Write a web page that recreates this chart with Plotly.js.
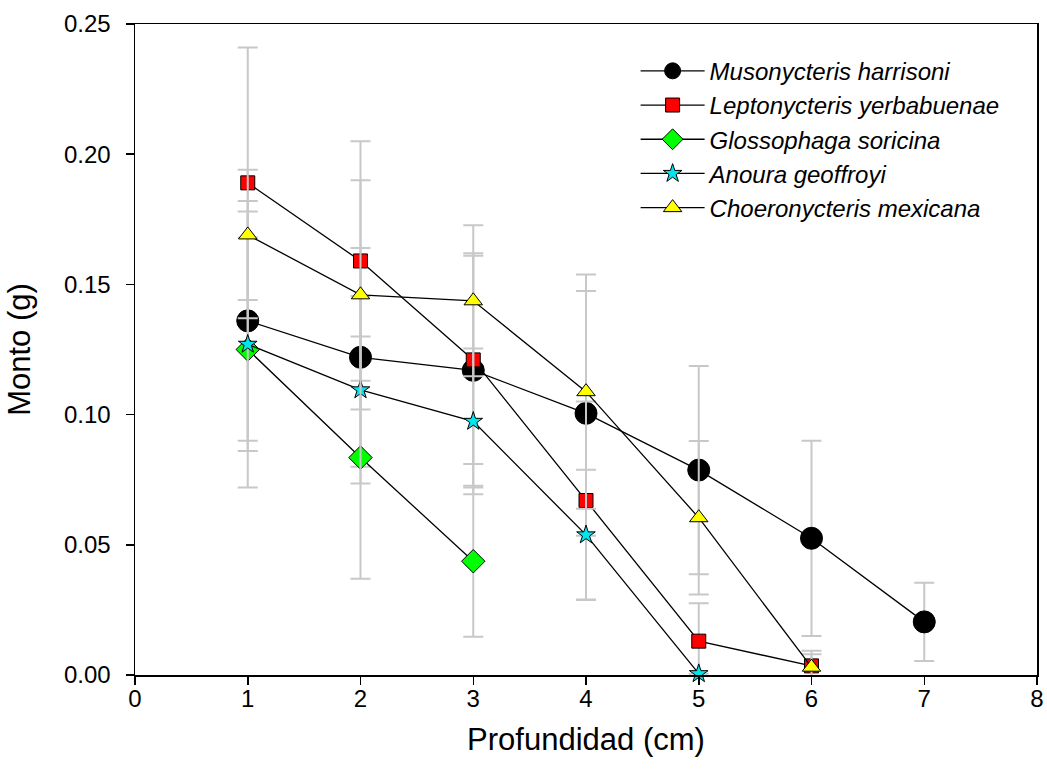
<!DOCTYPE html>
<html>
<head>
<meta charset="utf-8">
<script src="https://cdn.plot.ly/plotly-3.0.1.min.js"></script>
<style>html,body{margin:0;padding:0;background:#fff;}#chart{width:1047px;height:778px;}</style>
</head>
<body>
<div id="chart"></div>
<script>
// Depth (cm)
var depthM = [1, 2, 3, 4, 5, 6, 7];
var depthL = [1, 2, 3, 4, 5, 6];
var depthG = [1, 2, 3];
var depthA = [1, 2, 3, 4, 5];
var depthC = [1, 2, 3, 4, 5, 6];

// Mean amount (g)
var musonycteris = [0.136, 0.122, 0.117, 0.1005, 0.0787, 0.0525, 0.0204];
var leptonycteris = [0.189, 0.159, 0.121, 0.067, 0.013, 0.0035];
var glossophaga = [0.125, 0.0835, 0.0437];
var anoura = [0.127, 0.1095, 0.0974, 0.0538, 0.0005];
var choeronycteris = [0.169, 0.146, 0.1437, 0.1088, 0.0604, 0.003];

// Error (g)
var errM = [0.046, 0.042, 0.045, 0.047, 0.040, 0.0375, 0.015];
var errL = [0.052, 0.046, 0.040, 0.038, 0.0146, 0.0058];
var errG = [0.053, 0.0465, 0.029];
var errA = [0.041, 0.036, 0.028, 0.025, 0.0];
var errC = [0.025, 0.044, 0.029, 0.045, 0.0295, 0.005];

var names = ["Musonycteris harrisoni", "Leptonycteris yerbabuenae", "Glossophaga soricina", "Anoura geoffroyi", "Choeronycteris mexicana"];

function mk(x, y, e, name, symbol, color, size) {
  return {
    type: 'scatter', mode: 'lines+markers', x: x, y: y, name: name,
    cliponaxis: false,
    line: {color: '#000', width: 1.3},
    marker: {symbol: symbol, color: color, size: size, line: {color: '#000', width: 1}},
    error_y: {type: 'data', array: e, visible: true, color: '#c8c8c8', thickness: 2, width: 10}
  };
}

var data = [
  mk(depthM, musonycteris, errM, names[0], 'circle', '#000000', 22),
  mk(depthL, leptonycteris, errL, names[1], 'square', '#ff0000', 14),
  mk(depthG, glossophaga, errG, names[2], 'diamond', '#00ff00', 18),
  mk(depthA, anoura, errA, names[3], 'star', '#00e5ee', 14),
  mk(depthC, choeronycteris, errC, names[4], 'triangle-up', '#ffff00', 16)
];

var layout = {
  width: 1047, height: 778,
  margin: {l: 135, r: 10, t: 24, b: 103},
  paper_bgcolor: '#fff', plot_bgcolor: '#fff',
  font: {family: 'Liberation Sans, Arial, sans-serif', color: '#000', size: 24},
  showlegend: true,
  legend: {
    x: 0.555, y: 0.962, xanchor: 'left', yanchor: 'top',
    bgcolor: 'rgba(0,0,0,0)', borderwidth: 0,
    font: {family: 'Liberation Sans, Arial, sans-serif', size: 24, style: 'italic', color: '#000'},
    tracegroupgap: 0, itemwidth: 64
  },
  xaxis: {
    range: [0, 8], dtick: 1, tick0: 0,
    showgrid: false, zeroline: false,
    showline: true, linecolor: '#000', linewidth: 1.5, mirror: true,
    ticks: 'outside', ticklen: 8, tickcolor: '#000', tickwidth: 1.5,
    tickfont: {size: 24},
    ticklabelstandoff: -6,
    title: {text: 'Profundidad (cm)', font: {size: 31}, standoff: 17}
  },
  yaxis: {
    range: [0, 0.25], dtick: 0.05, tick0: 0, tickformat: '.2f',
    showgrid: false, zeroline: false,
    showline: true, linecolor: '#000', linewidth: 1.5, mirror: true,
    ticks: 'outside', ticklen: 8, tickcolor: '#000', tickwidth: 1.5,
    tickfont: {size: 24},
    ticklabelstandoff: 10,
    title: {text: 'Monto (g)', font: {size: 31}, standoff: 24}
  }
};

Plotly.newPlot('chart', data, layout, {displayModeBar: false, staticPlot: true});
</script>
</body>
</html>
